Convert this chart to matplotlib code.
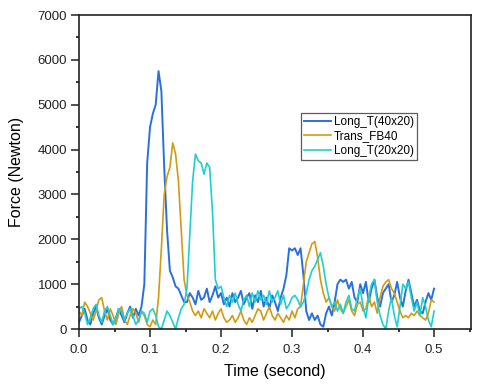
import numpy as np
import matplotlib
matplotlib.use("Agg")
import matplotlib.pyplot as plt
from matplotlib.ticker import MultipleLocator, FormatStrFormatter

plt.rcParams['font.family'] = ['Liberation Sans', 'DejaVu Sans']

time = np.round(np.arange(126) * 0.004, 3)

long_t_40x20 = [150, 300, 450, 200, 100, 350, 500, 250, 100, 300,
                450, 200, 100, 250, 450, 300, 150, 350, 500, 250,
                450, 300, 500, 1000, 3700, 4500, 4800, 5000, 5750, 5300,
                3600, 2200, 1300, 1150, 950, 900, 750, 600, 600, 800,
                700, 550, 850, 650, 700, 900, 600, 750, 950, 700,
                800, 550, 700, 500, 800, 600, 700, 850, 550, 700,
                800, 450, 750, 600, 850, 500, 700, 450, 750, 600,
                400, 700, 900, 1200, 1800, 1750, 1800, 1650, 1800, 1200,
                400, 200, 350, 200, 300, 100, 50, 350, 500, 300,
                600, 1000, 1100, 1050, 1100, 900, 1050, 700, 600, 1000,
                800, 1050, 600, 900, 1100, 700, 500, 800, 900, 1000,
                600, 750, 1050, 700, 500, 850, 1100, 800, 500, 650,
                400, 350, 600, 800, 650, 900]

trans_fb40 = [400, 300, 600, 500, 350, 200, 400, 650, 700, 400,
              200, 450, 300, 100, 350, 500, 200, 100, 300, 450,
              350, 150, 400, 300, 100, 50, 200, 100, 700, 1800,
              3000, 3400, 3600, 4150, 3900, 3300, 2200, 1100, 750, 600,
              400, 300, 400, 250, 450, 350, 250, 400, 200, 350,
              450, 250, 150, 200, 300, 150, 250, 400, 200, 100,
              250, 150, 300, 450, 400, 200, 350, 500, 300, 200,
              350, 250, 150, 300, 200, 400, 250, 450, 500, 1000,
              1500, 1700, 1900, 1950, 1600, 1100, 800, 600, 700, 500,
              400, 650, 450, 350, 500, 650, 400, 300, 550, 600,
              400, 450, 750, 500, 600, 350, 700, 950, 1050, 1100,
              900, 800, 600, 400, 250, 300, 250, 350, 300, 400,
              300, 250, 200, 350, 650, 600]

long_t_20x20 = [450, 500, 350, 100, 250, 450, 550, 300, 150, 400,
                500, 300, 100, 250, 450, 400, 200, 350, 450, 300,
                100, 200, 400, 350, 150, 400, 450, 300, 50, 0,
                200, 400, 300, 150, 0, 250, 450, 550, 900, 2100,
                3300, 3900, 3750, 3700, 3450, 3700, 3600, 2600, 1100, 900,
                950, 700, 500, 750, 600, 800, 550, 400, 650, 750,
                500, 800, 600, 850, 650, 750, 550, 850, 600, 700,
                850, 550, 750, 450, 550, 700, 750, 650, 500, 600,
                800, 1100, 1300, 1400, 1550, 1700, 1400, 1000, 700, 500,
                600, 400, 550, 350, 600, 750, 450, 400, 700, 900,
                500, 250, 700, 1000, 1100, 600, 300, 100, 0, 400,
                700, 300, 50, 500, 1000, 900, 1050, 700, 400, 600,
                300, 700, 500, 200, 50, 400]

series_names = ["Long_T(40x20)", "Trans_FB40", "Long_T(20x20)"]

fig = plt.figure(figsize=(4.8, 3.87), dpi=100)
ax = fig.add_axes([79/480, 1-329/387, (471-79)/480, (329-15)/387])

ax.plot(time, long_t_40x20, color='#2a6fe0', lw=1.4, label=series_names[0])
ax.plot(time, trans_fb40, color='#d49a12', lw=1.2, label=series_names[1])
ax.plot(time, long_t_20x20, color='#1fcfcf', lw=1.2, label=series_names[2])

ax.set_xlim(0, 0.552)
ax.set_ylim(0, 7000)
ax.xaxis.set_major_locator(MultipleLocator(0.1))
ax.xaxis.set_minor_locator(MultipleLocator(0.05))
ax.yaxis.set_major_locator(MultipleLocator(1000))
ax.yaxis.set_minor_locator(MultipleLocator(500))
ax.xaxis.set_major_formatter(FormatStrFormatter('%.1f'))
ax.tick_params(which='major', direction='out', length=5.5, width=1.1, labelsize=9.5,
               colors='#222222', pad=3)
ax.tick_params(which='minor', direction='out', length=2.5, width=1.1)
ax.tick_params(axis='x', pad=5)
for s in ax.spines.values():
    s.set_linewidth(1.2)
    s.set_color('#222222')

ax.set_xlabel('Time (second)', fontsize=11.5, labelpad=6)
ax.set_ylabel('Force (Newton)', fontsize=11.5, labelpad=10)

leg = ax.legend(loc='upper left', bbox_to_anchor=((301-79)/392, 1-(113-15)/314),
                fontsize=8.5, frameon=True, fancybox=False, edgecolor='#333333',
                handlelength=2.3, handletextpad=0.25, borderpad=0.25, labelspacing=0.2,
                borderaxespad=0)
leg.get_frame().set_linewidth(0.9)

fig.savefig('out.png', dpi=100)
